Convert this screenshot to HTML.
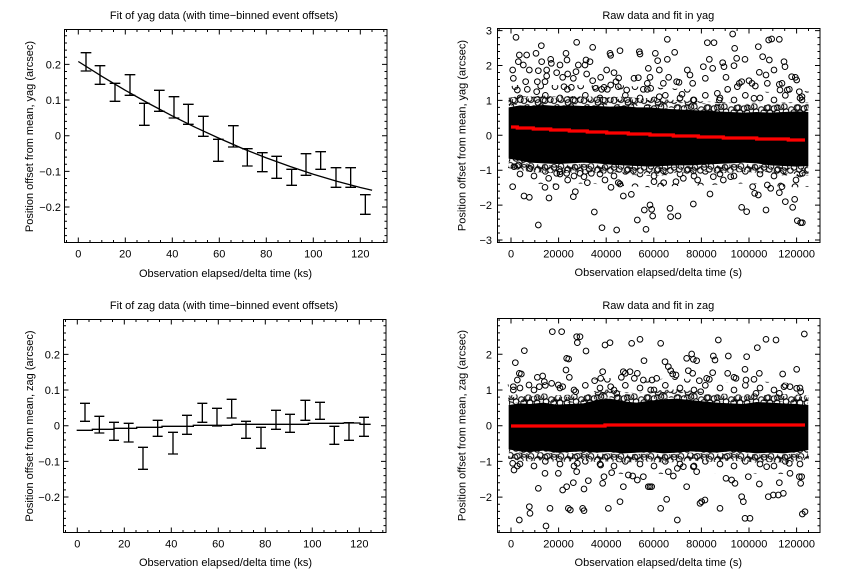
<!DOCTYPE html>
<html><head><meta charset="utf-8"><style>
html,body{margin:0;padding:0;background:#fff}
svg{display:block}
text{font-family:"Liberation Sans",Arial,sans-serif;font-size:11px;fill:#000}
</style></head><body>
<svg width="864" height="576" viewBox="0 0 864 576" xmlns="http://www.w3.org/2000/svg">
<defs>
<pattern id="pA" patternUnits="userSpaceOnUse" width="90" height="60">
<g fill="none" stroke="#000" stroke-width="3"><circle cx="12" cy="12" r="8.5"/><circle cx="33" cy="9" r="8.5"/><circle cx="54" cy="18" r="8.5"/><circle cx="75" cy="12" r="8.5"/><circle cx="21" cy="33" r="8.5"/><circle cx="42" cy="36" r="8.5"/><circle cx="63" cy="30" r="8.5"/><circle cx="78" cy="45" r="8.5"/><circle cx="11" cy="48" r="8.5"/><circle cx="30" cy="49" r="8.5"/><circle cx="51" cy="48" r="8.5"/></g>
</pattern>
<pattern id="pA2" patternUnits="userSpaceOnUse" width="90" height="60" patternTransform="translate(40,27)">
<g fill="none" stroke="#000" stroke-width="3"><circle cx="12" cy="12" r="8.5"/><circle cx="33" cy="9" r="8.5"/><circle cx="54" cy="18" r="8.5"/><circle cx="75" cy="12" r="8.5"/><circle cx="21" cy="33" r="8.5"/><circle cx="42" cy="36" r="8.5"/><circle cx="63" cy="30" r="8.5"/><circle cx="78" cy="45" r="8.5"/><circle cx="11" cy="48" r="8.5"/><circle cx="30" cy="49" r="8.5"/><circle cx="51" cy="48" r="8.5"/></g>
</pattern>
<pattern id="pB" patternUnits="userSpaceOnUse" width="120" height="72">
<g fill="none" stroke="#000" stroke-width="3"><circle cx="15" cy="14" r="8.5"/><circle cx="52" cy="22" r="8.5"/><circle cx="92" cy="12" r="8.5"/><circle cx="30" cy="48" r="8.5"/><circle cx="72" cy="54" r="8.5"/><circle cx="106" cy="40" r="8.5"/></g>
</pattern>
</defs>
<rect width="864" height="576" fill="#fff"/>

<!-- ================= TOP LEFT ================= -->
<g>
<text x="224" y="19" text-anchor="middle">Fit of yag data (with time−binned event offsets)</text>
<rect x="64.5" y="29.5" width="322.5" height="213" fill="none" stroke="#000" stroke-width="1"/>
<path fill="none" stroke="#000" stroke-width="1" d="
M78.3 242.5v-5M125.3 242.5v-5M172.3 242.5v-5M219.3 242.5v-5M266.3 242.5v-5M313.3 242.5v-5M360.3 242.5v-5
M78.3 29.5v5M125.3 29.5v5M172.3 29.5v5M219.3 29.5v5M266.3 29.5v5M313.3 29.5v5M360.3 29.5v5
M66.5 242.5v-2.5M90 242.5v-2.5M101.8 242.5v-2.5M113.5 242.5v-2.5M137 242.5v-2.5M148.8 242.5v-2.5M160.5 242.5v-2.5M184 242.5v-2.5M195.8 242.5v-2.5M207.5 242.5v-2.5M231 242.5v-2.5M242.8 242.5v-2.5M254.5 242.5v-2.5M278 242.5v-2.5M289.8 242.5v-2.5M301.5 242.5v-2.5M325 242.5v-2.5M336.8 242.5v-2.5M348.5 242.5v-2.5M372 242.5v-2.5M383.8 242.5v-2.5
M66.5 29.5v2.5M90 29.5v2.5M101.8 29.5v2.5M113.5 29.5v2.5M137 29.5v2.5M148.8 29.5v2.5M160.5 29.5v2.5M184 29.5v2.5M195.8 29.5v2.5M207.5 29.5v2.5M231 29.5v2.5M242.8 29.5v2.5M254.5 29.5v2.5M278 29.5v2.5M289.8 29.5v2.5M301.5 29.5v2.5M325 29.5v2.5M336.8 29.5v2.5M348.5 29.5v2.5M372 29.5v2.5M383.8 29.5v2.5
M64.5 64.4h5M64.5 100h5M64.5 135.7h5M64.5 171.4h5M64.5 207h5
M387 64.4h-5M387 100h-5M387 135.7h-5M387 171.4h-5M387 207h-5
M64.5 35.8h2.5M64.5 43h2.5M64.5 50.1h2.5M64.5 57.2h2.5M64.5 71.5h2.5M64.5 78.6h2.5M64.5 85.8h2.5M64.5 92.9h2.5M64.5 107.2h2.5M64.5 114.3h2.5M64.5 121.4h2.5M64.5 128.6h2.5M64.5 142.8h2.5M64.5 150h2.5M64.5 157.1h2.5M64.5 164.2h2.5M64.5 178.5h2.5M64.5 185.6h2.5M64.5 192.8h2.5M64.5 199.9h2.5M64.5 214.2h2.5M64.5 221.3h2.5M64.5 228.4h2.5M64.5 235.6h2.5
M387 35.8h-2.5M387 43h-2.5M387 50.1h-2.5M387 57.2h-2.5M387 71.5h-2.5M387 78.6h-2.5M387 85.8h-2.5M387 92.9h-2.5M387 107.2h-2.5M387 114.3h-2.5M387 121.4h-2.5M387 128.6h-2.5M387 142.8h-2.5M387 150h-2.5M387 157.1h-2.5M387 164.2h-2.5M387 178.5h-2.5M387 185.6h-2.5M387 192.8h-2.5M387 199.9h-2.5M387 214.2h-2.5M387 221.3h-2.5M387 228.4h-2.5M387 235.6h-2.5"/>
<g text-anchor="end">
<text x="61" y="68.4">0.2</text>
<text x="61" y="104">0.1</text>
<text x="61" y="139.7">0</text>
<text x="61" y="175.4">−0.1</text>
<text x="61" y="211">−0.2</text>
</g>
<g text-anchor="middle">
<text x="78.3" y="257.5">0</text>
<text x="125.3" y="257.5">20</text>
<text x="172.3" y="257.5">40</text>
<text x="219.3" y="257.5">60</text>
<text x="266.3" y="257.5">80</text>
<text x="313.3" y="257.5">100</text>
<text x="360.3" y="257.5">120</text>
<text x="225.5" y="277">Observation elapsed/delta time (ks)</text>
<text transform="translate(33,136.5) rotate(-90)">Position offset from mean, yag (arcsec)</text>
</g>
<path fill="none" stroke="#000" stroke-width="1.3" d="M78.3 61.5L101.8 76.3L125.3 90.3L148.8 103.5L172.3 115.9L195.8 127.6L219.3 138.4L242.8 148.6L266.3 157.9L289.8 166.4L313.3 174.2L336.8 181.2L360.3 187.5L372.1 190.3"/>
<g transform="scale(0.33333)" fill="none" stroke="#000" stroke-width="4">
<path d="M242 158H274M258 158V213M242 213H274
M284 197H316M300 197V253M284 253H316
M329 250H361M345 250V304M329 304H361
M374 224H406M390 224V286M374 286H406
M417 310H449M433 310V376M417 376H449
M462 271H494M478 271V334M462 334H494
M506 290H538M522 290V354M506 354H538
M549 313H581M565 313V373M549 373H581
M594 349H626M610 349V409M594 409H626
M639 418H671M655 418V484M639 484H671
M684 377H716M700 377V441M684 441H716
M726 446H758M742 446V498M726 498H758
M771 458H803M787 458V515M771 515H803
M814 469H846M830 469V535M814 535H846
M859 508H891M875 508V556M859 556H891
M902 461H934M918 461V526M902 526H934
M946 455H978M962 455V508M946 508H978
M992 503H1024M1008 503V562M992 562H1024
M1036 503H1068M1052 503V562M1036 562H1068
M1080 584H1112M1096 584V643M1080 643H1112"/>
</g>
</g>

<!-- ================= BOTTOM LEFT ================= -->
<g>
<text x="224" y="309" text-anchor="middle">Fit of zag data (with time−binned event offsets)</text>
<g transform="translate(-1,290)">
<rect x="64.5" y="29.5" width="322.5" height="213" fill="none" stroke="#000" stroke-width="1"/>
<path fill="none" stroke="#000" stroke-width="1" d="
M78.3 242.5v-5M125.3 242.5v-5M172.3 242.5v-5M219.3 242.5v-5M266.3 242.5v-5M313.3 242.5v-5M360.3 242.5v-5
M78.3 29.5v5M125.3 29.5v5M172.3 29.5v5M219.3 29.5v5M266.3 29.5v5M313.3 29.5v5M360.3 29.5v5
M66.5 242.5v-2.5M90 242.5v-2.5M101.8 242.5v-2.5M113.5 242.5v-2.5M137 242.5v-2.5M148.8 242.5v-2.5M160.5 242.5v-2.5M184 242.5v-2.5M195.8 242.5v-2.5M207.5 242.5v-2.5M231 242.5v-2.5M242.8 242.5v-2.5M254.5 242.5v-2.5M278 242.5v-2.5M289.8 242.5v-2.5M301.5 242.5v-2.5M325 242.5v-2.5M336.8 242.5v-2.5M348.5 242.5v-2.5M372 242.5v-2.5M383.8 242.5v-2.5
M66.5 29.5v2.5M90 29.5v2.5M101.8 29.5v2.5M113.5 29.5v2.5M137 29.5v2.5M148.8 29.5v2.5M160.5 29.5v2.5M184 29.5v2.5M195.8 29.5v2.5M207.5 29.5v2.5M231 29.5v2.5M242.8 29.5v2.5M254.5 29.5v2.5M278 29.5v2.5M289.8 29.5v2.5M301.5 29.5v2.5M325 29.5v2.5M336.8 29.5v2.5M348.5 29.5v2.5M372 29.5v2.5M383.8 29.5v2.5
M64.5 64.4h5M64.5 100h5M64.5 135.7h5M64.5 171.4h5M64.5 207h5
M387 64.4h-5M387 100h-5M387 135.7h-5M387 171.4h-5M387 207h-5
M64.5 35.8h2.5M64.5 43h2.5M64.5 50.1h2.5M64.5 57.2h2.5M64.5 71.5h2.5M64.5 78.6h2.5M64.5 85.8h2.5M64.5 92.9h2.5M64.5 107.2h2.5M64.5 114.3h2.5M64.5 121.4h2.5M64.5 128.6h2.5M64.5 142.8h2.5M64.5 150h2.5M64.5 157.1h2.5M64.5 164.2h2.5M64.5 178.5h2.5M64.5 185.6h2.5M64.5 192.8h2.5M64.5 199.9h2.5M64.5 214.2h2.5M64.5 221.3h2.5M64.5 228.4h2.5M64.5 235.6h2.5
M387 35.8h-2.5M387 43h-2.5M387 50.1h-2.5M387 57.2h-2.5M387 71.5h-2.5M387 78.6h-2.5M387 85.8h-2.5M387 92.9h-2.5M387 107.2h-2.5M387 114.3h-2.5M387 121.4h-2.5M387 128.6h-2.5M387 142.8h-2.5M387 150h-2.5M387 157.1h-2.5M387 164.2h-2.5M387 178.5h-2.5M387 185.6h-2.5M387 192.8h-2.5M387 199.9h-2.5M387 214.2h-2.5M387 221.3h-2.5M387 228.4h-2.5M387 235.6h-2.5"/>
<g text-anchor="end">
<text x="61" y="68.4">0.2</text>
<text x="61" y="104">0.1</text>
<text x="61" y="139.7">0</text>
<text x="61" y="175.4">−0.1</text>
<text x="61" y="211">−0.2</text>
</g>
<g text-anchor="middle">
<text x="78.3" y="257.5">0</text>
<text x="125.3" y="257.5">20</text>
<text x="172.3" y="257.5">40</text>
<text x="219.3" y="257.5">60</text>
<text x="266.3" y="257.5">80</text>
<text x="313.3" y="257.5">100</text>
<text x="360.3" y="257.5">120</text>
<text x="226.5" y="276">Observation elapsed/delta time (ks)</text>
<text transform="translate(34,136) rotate(-90)">Position offset from mean, zag (arcsec)</text>
</g>
</g>
<g transform="translate(60,371) scale(0.33333)" fill="none" stroke="#000" stroke-width="4">
<path d="M50 178H97V175H162V172H230V169H306V166H400V163H516V160H745V157H850V156H900V160H932"/>
<path d="M60 97H90M75 97V151M60 151H90
M103 136H133M118 136V186M103 186H133
M147 154H177M162 154V208M147 208H177
M191 157H221M206 157V213M191 213H221
M234 229H264M249 229V295M234 295H264
M278 148H308M293 148V196M278 196H308
M324 184H354M339 184V249M324 249H354
M366 133H396M381 133V190M366 190H396
M412 97H442M427 97V154M412 154H442
M456 112H486M471 112V165M456 165H486
M500 85H530M515 85V141M500 141H530
M543 151H573M558 151V202M543 202H573
M588 169H618M603 169V232M588 232H618
M633 118H663M648 118V175M633 175H663
M675 130H705M690 130V184M675 184H705
M721 88H751M736 88V148M721 148H751
M765 94H795M780 94V145M765 145H795
M808 166H838M823 166V220M808 220H838
M852 155H882M867 155V208M852 208H882
M897 139H927M912 139V196M897 196H927"/>
</g>
</g>

<!-- ================= TOP RIGHT ================= -->
<g>
<text x="658.3" y="19" text-anchor="middle">Raw data and fit in yag</text>
<g transform="translate(430,0) scale(0.33333)">
<polygon fill="#000" points="236,322 270,316 300,318 340,315 380,318 420,316 460,318 500,318 540,320 580,318 620,322 660,322 700,326 740,328 780,330 820,332 860,334 900,336 940,338 980,336 1020,338 1060,336 1100,334 1135,336 1135,498 1100,500 1060,498 1020,496 980,490 940,488 900,490 860,492 820,494 780,496 740,496 700,498 660,500 620,498 580,496 540,494 500,490 460,488 420,490 380,492 340,490 300,488 270,482 236,476"/>
<g fill="none" stroke-linejoin="round">
<polyline stroke="url(#pA)" stroke-width="24" transform="translate(0,-10)" points="236,322 270,316 300,318 340,315 380,318 420,316 460,318 500,318 540,320 580,318 620,322 660,322 700,326 740,328 780,330 820,332 860,334 900,336 940,338 980,336 1020,338 1060,336 1100,334 1135,336"/>
<polyline stroke="url(#pA2)" stroke-width="24" transform="translate(0,-16)" points="236,322 270,316 300,318 340,315 380,318 420,316 460,318 500,318 540,320 580,318 620,322 660,322 700,326 740,328 780,330 820,332 860,334 900,336 940,338 980,336 1020,338 1060,336 1100,334 1135,336"/>
<polyline stroke="url(#pB)" stroke-width="40" transform="translate(0,-42)" points="236,322 270,316 300,318 340,315 380,318 420,316 460,318 500,318 540,320 580,318 620,322 660,322 700,326 740,328 780,330 820,332 860,334 900,336 940,338 980,336 1020,338 1060,336 1100,334 1135,336"/>
<polyline stroke="url(#pA)" stroke-width="24" transform="translate(0,10)" points="236,476 270,482 300,488 340,490 380,492 420,490 460,488 500,490 540,494 580,496 620,498 660,500 700,498 740,496 780,496 820,494 860,492 900,490 940,488 980,490 1020,496 1060,498 1100,500 1135,498"/>
<polyline stroke="url(#pA2)" stroke-width="24" transform="translate(0,16)" points="236,476 270,482 300,488 340,490 380,492 420,490 460,488 500,490 540,494 580,496 620,498 660,500 700,498 740,496 780,496 820,494 860,492 900,490 940,488 980,490 1020,496 1060,498 1100,500 1135,498"/>
<polyline stroke="url(#pB)" stroke-width="40" transform="translate(0,42)" points="236,476 270,482 300,488 340,490 380,492 420,490 460,488 500,490 540,494 580,496 620,498 660,500 700,498 740,496 780,496 820,494 860,492 900,490 940,488 980,490 1020,496 1060,498 1100,500 1135,498"/>
</g>
<g fill="none" stroke="#000" stroke-width="3">
<circle cx="258" cy="112" r="8.5"/><circle cx="248" cy="210" r="8.5"/><circle cx="250" cy="235" r="8.5"/><circle cx="265" cy="185" r="8.5"/><circle cx="262" cy="270" r="8.5"/><circle cx="280" cy="195" r="8.5"/><circle cx="268" cy="165" r="8.5"/><circle cx="290" cy="165" r="8.5"/><circle cx="287" cy="245" r="8.5"/><circle cx="298" cy="210" r="8.5"/><circle cx="318" cy="160" r="8.5"/><circle cx="325" cy="212" r="8.5"/><circle cx="322" cy="245" r="8.5"/><circle cx="320" cy="275" r="8.5"/><circle cx="335" cy="185" r="8.5"/><circle cx="334" cy="137" r="8.5"/><circle cx="345" cy="245" r="8.5"/><circle cx="350" cy="210" r="8.5"/><circle cx="362" cy="178" r="8.5"/><circle cx="364" cy="190" r="8.5"/><circle cx="350" cy="228" r="8.5"/><circle cx="380" cy="218" r="8.5"/><circle cx="390" cy="195" r="8.5"/><circle cx="402" cy="260" r="8.5"/><circle cx="398" cy="232" r="8.5"/><circle cx="408" cy="160" r="8.5"/><circle cx="411" cy="180" r="8.5"/><circle cx="413" cy="222" r="8.5"/><circle cx="424" cy="262" r="8.5"/><circle cx="430" cy="235" r="8.5"/><circle cx="440" cy="127" r="8.5"/><circle cx="445" cy="195" r="8.5"/><circle cx="438" cy="215" r="8.5"/><circle cx="465" cy="195" r="8.5"/><circle cx="470" cy="222" r="8.5"/><circle cx="468" cy="180" r="8.5"/><circle cx="480" cy="185" r="8.5"/><circle cx="488" cy="142" r="8.5"/><circle cx="488" cy="242" r="8.5"/><circle cx="497" cy="265" r="8.5"/><circle cx="512" cy="232" r="8.5"/><circle cx="515" cy="268" r="8.5"/><circle cx="522" cy="262" r="8.5"/><circle cx="530" cy="210" r="8.5"/><circle cx="540" cy="160" r="8.5"/><circle cx="542" cy="166" r="8.5"/><circle cx="542" cy="255" r="8.5"/><circle cx="552" cy="218" r="8.5"/><circle cx="558" cy="245" r="8.5"/><circle cx="566" cy="234" r="8.5"/><circle cx="570" cy="152" r="8.5"/><circle cx="565" cy="260" r="8.5"/><circle cx="590" cy="270" r="8.5"/><circle cx="612" cy="235" r="8.5"/><circle cx="625" cy="233" r="8.5"/><circle cx="628" cy="155" r="8.5"/><circle cx="630" cy="162" r="8.5"/><circle cx="640" cy="268" r="8.5"/><circle cx="652" cy="250" r="8.5"/><circle cx="660" cy="232" r="8.5"/><circle cx="655" cy="205" r="8.5"/><circle cx="662" cy="265" r="8.5"/><circle cx="676" cy="160" r="8.5"/><circle cx="683" cy="182" r="8.5"/><circle cx="688" cy="210" r="8.5"/><circle cx="688" cy="290" r="8.5"/><circle cx="700" cy="250" r="8.5"/><circle cx="712" cy="118" r="8.5"/><circle cx="712" cy="178" r="8.5"/><circle cx="716" cy="232" r="8.5"/><circle cx="734" cy="157" r="8.5"/><circle cx="740" cy="245" r="8.5"/><circle cx="747" cy="247" r="8.5"/><circle cx="756" cy="283" r="8.5"/><circle cx="772" cy="210" r="8.5"/><circle cx="780" cy="225" r="8.5"/><circle cx="788" cy="250" r="8.5"/><circle cx="790" cy="300" r="8.5"/><circle cx="820" cy="200" r="8.5"/><circle cx="826" cy="235" r="8.5"/><circle cx="832" cy="128" r="8.5"/><circle cx="838" cy="178" r="8.5"/><circle cx="852" cy="128" r="8.5"/><circle cx="848" cy="205" r="8.5"/><circle cx="862" cy="280" r="8.5"/><circle cx="868" cy="300" r="8.5"/><circle cx="878" cy="188" r="8.5"/><circle cx="882" cy="200" r="8.5"/><circle cx="888" cy="232" r="8.5"/><circle cx="893" cy="268" r="8.5"/><circle cx="908" cy="102" r="8.5"/><circle cx="912" cy="197" r="8.5"/><circle cx="914" cy="145" r="8.5"/><circle cx="920" cy="175" r="8.5"/><circle cx="922" cy="260" r="8.5"/><circle cx="928" cy="250" r="8.5"/><circle cx="935" cy="245" r="8.5"/><circle cx="945" cy="178" r="8.5"/><circle cx="957" cy="242" r="8.5"/><circle cx="966" cy="250" r="8.5"/><circle cx="972" cy="295" r="8.5"/><circle cx="976" cy="258" r="8.5"/><circle cx="985" cy="140" r="8.5"/><circle cx="988" cy="217" r="8.5"/><circle cx="998" cy="170" r="8.5"/><circle cx="1008" cy="225" r="8.5"/><circle cx="1012" cy="250" r="8.5"/><circle cx="1016" cy="120" r="8.5"/><circle cx="1018" cy="180" r="8.5"/><circle cx="1025" cy="117" r="8.5"/><circle cx="1032" cy="210" r="8.5"/><circle cx="1048" cy="118" r="8.5"/><circle cx="1048" cy="253" r="8.5"/><circle cx="1050" cy="270" r="8.5"/><circle cx="1056" cy="250" r="8.5"/><circle cx="1062" cy="185" r="8.5"/><circle cx="1065" cy="200" r="8.5"/><circle cx="1072" cy="270" r="8.5"/><circle cx="1078" cy="268" r="8.5"/><circle cx="1085" cy="230" r="8.5"/><circle cx="1096" cy="232" r="8.5"/><circle cx="1100" cy="240" r="8.5"/><circle cx="1108" cy="275" r="8.5"/><circle cx="1116" cy="290" r="8.5"/><circle cx="1116" cy="300" r="8.5"/>
<circle cx="248" cy="560" r="8.5"/><circle cx="252" cy="500" r="8.5"/><circle cx="265" cy="495" r="8.5"/><circle cx="282" cy="588" r="8.5"/><circle cx="298" cy="592" r="8.5"/><circle cx="300" cy="505" r="8.5"/><circle cx="325" cy="675" r="8.5"/><circle cx="345" cy="562" r="8.5"/><circle cx="357" cy="594" r="8.5"/><circle cx="356" cy="535" r="8.5"/><circle cx="378" cy="560" r="8.5"/><circle cx="380" cy="520" r="8.5"/><circle cx="390" cy="515" r="8.5"/><circle cx="410" cy="520" r="8.5"/><circle cx="413" cy="540" r="8.5"/><circle cx="430" cy="590" r="8.5"/><circle cx="436" cy="575" r="8.5"/><circle cx="450" cy="520" r="8.5"/><circle cx="462" cy="530" r="8.5"/><circle cx="472" cy="548" r="8.5"/><circle cx="484" cy="520" r="8.5"/><circle cx="493" cy="636" r="8.5"/><circle cx="516" cy="683" r="8.5"/><circle cx="525" cy="540" r="8.5"/><circle cx="543" cy="562" r="8.5"/><circle cx="560" cy="690" r="8.5"/><circle cx="565" cy="548" r="8.5"/><circle cx="570" cy="552" r="8.5"/><circle cx="580" cy="588" r="8.5"/><circle cx="604" cy="583" r="8.5"/><circle cx="622" cy="660" r="8.5"/><circle cx="643" cy="630" r="8.5"/><circle cx="648" cy="688" r="8.5"/><circle cx="660" cy="615" r="8.5"/><circle cx="665" cy="628" r="8.5"/><circle cx="668" cy="648" r="8.5"/><circle cx="672" cy="545" r="8.5"/><circle cx="701" cy="548" r="8.5"/><circle cx="720" cy="625" r="8.5"/><circle cx="722" cy="650" r="8.5"/><circle cx="744" cy="648" r="8.5"/><circle cx="738" cy="545" r="8.5"/><circle cx="760" cy="535" r="8.5"/><circle cx="790" cy="612" r="8.5"/><circle cx="803" cy="540" r="8.5"/><circle cx="840" cy="582" r="8.5"/><circle cx="850" cy="530" r="8.5"/><circle cx="880" cy="540" r="8.5"/><circle cx="902" cy="530" r="8.5"/><circle cx="935" cy="622" r="8.5"/><circle cx="950" cy="635" r="8.5"/><circle cx="968" cy="560" r="8.5"/><circle cx="974" cy="580" r="8.5"/><circle cx="985" cy="585" r="8.5"/><circle cx="1008" cy="630" r="8.5"/><circle cx="1012" cy="555" r="8.5"/><circle cx="1022" cy="565" r="8.5"/><circle cx="1048" cy="578" r="8.5"/><circle cx="1056" cy="560" r="8.5"/><circle cx="1066" cy="605" r="8.5"/><circle cx="1088" cy="622" r="8.5"/><circle cx="1094" cy="598" r="8.5"/><circle cx="1102" cy="662" r="8.5"/><circle cx="1112" cy="668" r="8.5"/><circle cx="1117" cy="668" r="8.5"/><circle cx="1098" cy="540" r="8.5"/><circle cx="1117" cy="520" r="8.5"/>
</g>
</g>
<path fill="none" stroke="#ff0000" stroke-width="3.3" d="M511 127H517.3V128H533.3V129H550.7V130H569.3V131H587.3V132H606.7V133H628.3V134H650V135H673.3V136H698.3V137H723.3V138H756.7V139H788.3V140H805"/>
<rect x="497.5" y="28.5" width="322.5" height="214" fill="none" stroke="#000" stroke-width="1"/>
<path fill="none" stroke="#000" stroke-width="1" d="
M511 242.5v-5M558.6 242.5v-5M606.2 242.5v-5M653.8 242.5v-5M701.4 242.5v-5M749 242.5v-5M796.6 242.5v-5
M511 28.5v5M558.6 28.5v5M606.2 28.5v5M653.8 28.5v5M701.4 28.5v5M749 28.5v5M796.6 28.5v5
M499.1 242.5v-2.5M522.9 242.5v-2.5M534.8 242.5v-2.5M546.7 242.5v-2.5M570.5 242.5v-2.5M582.4 242.5v-2.5M594.3 242.5v-2.5M618.1 242.5v-2.5M630 242.5v-2.5M641.9 242.5v-2.5M665.7 242.5v-2.5M677.6 242.5v-2.5M689.5 242.5v-2.5M713.3 242.5v-2.5M725.2 242.5v-2.5M737.1 242.5v-2.5M760.9 242.5v-2.5M772.8 242.5v-2.5M784.7 242.5v-2.5M808.5 242.5v-2.5
M499.1 28.5v2.5M522.9 28.5v2.5M534.8 28.5v2.5M546.7 28.5v2.5M570.5 28.5v2.5M582.4 28.5v2.5M594.3 28.5v2.5M618.1 28.5v2.5M630 28.5v2.5M641.9 28.5v2.5M665.7 28.5v2.5M677.6 28.5v2.5M689.5 28.5v2.5M713.3 28.5v2.5M725.2 28.5v2.5M737.1 28.5v2.5M760.9 28.5v2.5M772.8 28.5v2.5M784.7 28.5v2.5M808.5 28.5v2.5
M497.5 30.6h5M497.5 65.5h5M497.5 100.4h5M497.5 135.3h5M497.5 170.2h5M497.5 205.1h5M497.5 240h5
M820 30.6h-5M820 65.5h-5M820 100.4h-5M820 135.3h-5M820 170.2h-5M820 205.1h-5M820 240h-5
M497.5 37.6h2.5M497.5 44.6h2.5M497.5 51.5h2.5M497.5 58.5h2.5M497.5 72.5h2.5M497.5 79.5h2.5M497.5 86.4h2.5M497.5 93.4h2.5M497.5 107.4h2.5M497.5 114.4h2.5M497.5 121.3h2.5M497.5 128.3h2.5M497.5 142.3h2.5M497.5 149.3h2.5M497.5 156.2h2.5M497.5 163.2h2.5M497.5 177.2h2.5M497.5 184.2h2.5M497.5 191.1h2.5M497.5 198.1h2.5M497.5 212.1h2.5M497.5 219.1h2.5M497.5 226h2.5M497.5 233h2.5
M820 37.6h-2.5M820 44.6h-2.5M820 51.5h-2.5M820 58.5h-2.5M820 72.5h-2.5M820 79.5h-2.5M820 86.4h-2.5M820 93.4h-2.5M820 107.4h-2.5M820 114.4h-2.5M820 121.3h-2.5M820 128.3h-2.5M820 142.3h-2.5M820 149.3h-2.5M820 156.2h-2.5M820 163.2h-2.5M820 177.2h-2.5M820 184.2h-2.5M820 191.1h-2.5M820 198.1h-2.5M820 212.1h-2.5M820 219.1h-2.5M820 226h-2.5M820 233h-2.5"/>
<g text-anchor="end">
<text x="492" y="34.6">3</text>
<text x="492" y="69.5">2</text>
<text x="492" y="104.4">1</text>
<text x="492" y="139.3">0</text>
<text x="492" y="174.2">−1</text>
<text x="492" y="209.1">−2</text>
<text x="492" y="244">−3</text>
</g>
<g text-anchor="middle">
<text x="511" y="257.5">0</text>
<text x="558.6" y="257.5">20000</text>
<text x="606.2" y="257.5">40000</text>
<text x="653.8" y="257.5">60000</text>
<text x="701.4" y="257.5">80000</text>
<text x="749" y="257.5">100000</text>
<text x="796.6" y="257.5">120000</text>
<text x="658.3" y="276">Observation elapsed/delta time (s)</text>
<text transform="translate(465.5,135.5) rotate(-90)">Position offset from mean, yag (arcsec)</text>
</g>
</g>

<!-- ================= BOTTOM RIGHT ================= -->
<g>
<text x="658.3" y="309" text-anchor="middle">Raw data and fit in zag</text>
<g transform="translate(430,290) scale(0.33333)">
<polygon fill="#000" points="236,345 270,340 300,342 340,338 380,344 420,342 460,340 500,330 540,326 580,334 620,338 660,332 700,328 740,326 780,330 820,334 860,338 900,340 940,342 980,336 1020,338 1060,340 1100,342 1135,345 1135,480 1100,486 1060,490 1020,488 980,490 940,486 900,484 860,488 820,486 780,484 740,488 700,490 660,486 620,488 580,490 540,486 500,488 460,484 420,486 380,488 340,482 300,486 270,484 236,478"/>
<g fill="none" stroke-linejoin="round">
<polyline stroke="url(#pA)" stroke-width="24" transform="translate(0,-10)" points="236,345 270,340 300,342 340,338 380,344 420,342 460,340 500,330 540,326 580,334 620,338 660,332 700,328 740,326 780,330 820,334 860,338 900,340 940,342 980,336 1020,338 1060,340 1100,342 1135,345"/>
<polyline stroke="url(#pA2)" stroke-width="24" transform="translate(0,-16)" points="236,345 270,340 300,342 340,338 380,344 420,342 460,340 500,330 540,326 580,334 620,338 660,332 700,328 740,326 780,330 820,334 860,338 900,340 940,342 980,336 1020,338 1060,340 1100,342 1135,345"/>
<polyline stroke="url(#pB)" stroke-width="40" transform="translate(0,-42)" points="236,345 270,340 300,342 340,338 380,344 420,342 460,340 500,330 540,326 580,334 620,338 660,332 700,328 740,326 780,330 820,334 860,338 900,340 940,342 980,336 1020,338 1060,340 1100,342 1135,345"/>
<polyline stroke="url(#pA)" stroke-width="24" transform="translate(0,10)" points="236,478 270,484 300,486 340,482 380,488 420,486 460,484 500,488 540,486 580,490 620,488 660,486 700,490 740,488 780,484 820,486 860,488 900,484 940,486 980,490 1020,488 1060,490 1100,486 1135,480"/>
<polyline stroke="url(#pA2)" stroke-width="24" transform="translate(0,16)" points="236,478 270,484 300,486 340,482 380,488 420,486 460,484 500,488 540,486 580,490 620,488 660,486 700,490 740,488 780,484 820,486 860,488 900,484 940,486 980,490 1020,488 1060,490 1100,486 1135,480"/>
<polyline stroke="url(#pB)" stroke-width="40" transform="translate(0,42)" points="236,478 270,484 300,486 340,482 380,488 420,486 460,484 500,488 540,486 580,490 620,488 660,486 700,490 740,488 780,484 820,486 860,488 900,484 940,486 980,490 1020,488 1060,490 1100,486 1135,480"/>
</g>
<g fill="none" stroke="#000" stroke-width="3">
<circle cx="256" cy="218" r="8.5"/><circle cx="283" cy="182" r="8.5"/><circle cx="250" cy="290" r="8.5"/><circle cx="262" cy="270" r="8.5"/><circle cx="268" cy="250" r="8.5"/><circle cx="274" cy="252" r="8.5"/><circle cx="250" cy="300" r="8.5"/><circle cx="297" cy="285" r="8.5"/><circle cx="322" cy="262" r="8.5"/><circle cx="328" cy="290" r="8.5"/><circle cx="338" cy="258" r="8.5"/><circle cx="343" cy="275" r="8.5"/><circle cx="365" cy="280" r="8.5"/><circle cx="367" cy="125" r="8.5"/><circle cx="385" cy="285" r="8.5"/><circle cx="395" cy="125" r="8.5"/><circle cx="398" cy="290" r="8.5"/><circle cx="408" cy="240" r="8.5"/><circle cx="410" cy="205" r="8.5"/><circle cx="416" cy="207" r="8.5"/><circle cx="418" cy="262" r="8.5"/><circle cx="437" cy="305" r="8.5"/><circle cx="440" cy="140" r="8.5"/><circle cx="450" cy="140" r="8.5"/><circle cx="442" cy="158" r="8.5"/><circle cx="468" cy="183" r="8.5"/><circle cx="494" cy="272" r="8.5"/><circle cx="512" cy="265" r="8.5"/><circle cx="518" cy="245" r="8.5"/><circle cx="525" cy="165" r="8.5"/><circle cx="540" cy="158" r="8.5"/><circle cx="542" cy="290" r="8.5"/><circle cx="560" cy="310" r="8.5"/><circle cx="574" cy="262" r="8.5"/><circle cx="580" cy="245" r="8.5"/><circle cx="586" cy="250" r="8.5"/><circle cx="600" cy="245" r="8.5"/><circle cx="605" cy="160" r="8.5"/><circle cx="613" cy="265" r="8.5"/><circle cx="622" cy="250" r="8.5"/><circle cx="630" cy="148" r="8.5"/><circle cx="640" cy="270" r="8.5"/><circle cx="642" cy="212" r="8.5"/><circle cx="662" cy="300" r="8.5"/><circle cx="666" cy="270" r="8.5"/><circle cx="680" cy="265" r="8.5"/><circle cx="692" cy="160" r="8.5"/><circle cx="705" cy="215" r="8.5"/><circle cx="715" cy="230" r="8.5"/><circle cx="722" cy="242" r="8.5"/><circle cx="728" cy="252" r="8.5"/><circle cx="738" cy="255" r="8.5"/><circle cx="770" cy="205" r="8.5"/><circle cx="775" cy="242" r="8.5"/><circle cx="785" cy="192" r="8.5"/><circle cx="790" cy="208" r="8.5"/><circle cx="800" cy="212" r="8.5"/><circle cx="788" cy="250" r="8.5"/><circle cx="808" cy="272" r="8.5"/><circle cx="812" cy="305" r="8.5"/><circle cx="830" cy="265" r="8.5"/><circle cx="838" cy="268" r="8.5"/><circle cx="848" cy="248" r="8.5"/><circle cx="850" cy="198" r="8.5"/><circle cx="855" cy="210" r="8.5"/><circle cx="865" cy="150" r="8.5"/><circle cx="895" cy="198" r="8.5"/><circle cx="893" cy="250" r="8.5"/><circle cx="912" cy="262" r="8.5"/><circle cx="918" cy="265" r="8.5"/><circle cx="945" cy="238" r="8.5"/><circle cx="948" cy="270" r="8.5"/><circle cx="950" cy="200" r="8.5"/><circle cx="972" cy="268" r="8.5"/><circle cx="978" cy="310" r="8.5"/><circle cx="982" cy="173" r="8.5"/><circle cx="988" cy="250" r="8.5"/><circle cx="1008" cy="148" r="8.5"/><circle cx="1038" cy="150" r="8.5"/><circle cx="1048" cy="310" r="8.5"/><circle cx="1058" cy="252" r="8.5"/><circle cx="1062" cy="290" r="8.5"/><circle cx="1080" cy="290" r="8.5"/><circle cx="1100" cy="295" r="8.5"/><circle cx="1112" cy="305" r="8.5"/><circle cx="1123" cy="132" r="8.5"/><circle cx="1100" cy="238" r="8.5"/>
<circle cx="248" cy="520" r="8.5"/><circle cx="252" cy="540" r="8.5"/><circle cx="262" cy="528" r="8.5"/><circle cx="268" cy="690" r="8.5"/><circle cx="298" cy="650" r="8.5"/><circle cx="300" cy="670" r="8.5"/><circle cx="325" cy="595" r="8.5"/><circle cx="345" cy="550" r="8.5"/><circle cx="348" cy="708" r="8.5"/><circle cx="360" cy="655" r="8.5"/><circle cx="385" cy="550" r="8.5"/><circle cx="398" cy="600" r="8.5"/><circle cx="410" cy="590" r="8.5"/><circle cx="415" cy="655" r="8.5"/><circle cx="421" cy="660" r="8.5"/><circle cx="430" cy="578" r="8.5"/><circle cx="442" cy="520" r="8.5"/><circle cx="440" cy="545" r="8.5"/><circle cx="458" cy="655" r="8.5"/><circle cx="462" cy="662" r="8.5"/><circle cx="462" cy="597" r="8.5"/><circle cx="475" cy="572" r="8.5"/><circle cx="512" cy="525" r="8.5"/><circle cx="518" cy="580" r="8.5"/><circle cx="522" cy="560" r="8.5"/><circle cx="535" cy="655" r="8.5"/><circle cx="545" cy="548" r="8.5"/><circle cx="570" cy="635" r="8.5"/><circle cx="580" cy="590" r="8.5"/><circle cx="595" cy="555" r="8.5"/><circle cx="608" cy="558" r="8.5"/><circle cx="622" cy="570" r="8.5"/><circle cx="640" cy="560" r="8.5"/><circle cx="655" cy="590" r="8.5"/><circle cx="660" cy="590" r="8.5"/><circle cx="665" cy="590" r="8.5"/><circle cx="692" cy="655" r="8.5"/><circle cx="710" cy="628" r="8.5"/><circle cx="715" cy="545" r="8.5"/><circle cx="730" cy="558" r="8.5"/><circle cx="742" cy="535" r="8.5"/><circle cx="742" cy="690" r="8.5"/><circle cx="760" cy="530" r="8.5"/><circle cx="770" cy="590" r="8.5"/><circle cx="790" cy="530" r="8.5"/><circle cx="800" cy="545" r="8.5"/><circle cx="810" cy="640" r="8.5"/><circle cx="815" cy="635" r="8.5"/><circle cx="825" cy="630" r="8.5"/><circle cx="870" cy="655" r="8.5"/><circle cx="888" cy="565" r="8.5"/><circle cx="905" cy="570" r="8.5"/><circle cx="915" cy="580" r="8.5"/><circle cx="935" cy="620" r="8.5"/><circle cx="940" cy="635" r="8.5"/><circle cx="945" cy="685" r="8.5"/><circle cx="960" cy="685" r="8.5"/><circle cx="955" cy="560" r="8.5"/><circle cx="988" cy="582" r="8.5"/><circle cx="1010" cy="530" r="8.5"/><circle cx="1015" cy="620" r="8.5"/><circle cx="1030" cy="615" r="8.5"/><circle cx="1045" cy="615" r="8.5"/><circle cx="1060" cy="610" r="8.5"/><circle cx="1048" cy="578" r="8.5"/><circle cx="1078" cy="520" r="8.5"/><circle cx="1080" cy="550" r="8.5"/><circle cx="1108" cy="560" r="8.5"/><circle cx="1112" cy="580" r="8.5"/><circle cx="1115" cy="560" r="8.5"/><circle cx="1117" cy="672" r="8.5"/><circle cx="1125" cy="665" r="8.5"/>
</g>
</g>
<path fill="none" stroke="#ff0000" stroke-width="3.3" d="M511 426H605V425H805"/>
<g transform="translate(0,290)">
<rect x="497.5" y="28.5" width="322.5" height="214" fill="none" stroke="#000" stroke-width="1"/>
<path fill="none" stroke="#000" stroke-width="1" d="
M511 242.5v-5M558.6 242.5v-5M606.2 242.5v-5M653.8 242.5v-5M701.4 242.5v-5M749 242.5v-5M796.6 242.5v-5
M511 28.5v5M558.6 28.5v5M606.2 28.5v5M653.8 28.5v5M701.4 28.5v5M749 28.5v5M796.6 28.5v5
M499.1 242.5v-2.5M522.9 242.5v-2.5M534.8 242.5v-2.5M546.7 242.5v-2.5M570.5 242.5v-2.5M582.4 242.5v-2.5M594.3 242.5v-2.5M618.1 242.5v-2.5M630 242.5v-2.5M641.9 242.5v-2.5M665.7 242.5v-2.5M677.6 242.5v-2.5M689.5 242.5v-2.5M713.3 242.5v-2.5M725.2 242.5v-2.5M737.1 242.5v-2.5M760.9 242.5v-2.5M772.8 242.5v-2.5M784.7 242.5v-2.5M808.5 242.5v-2.5
M499.1 28.5v2.5M522.9 28.5v2.5M534.8 28.5v2.5M546.7 28.5v2.5M570.5 28.5v2.5M582.4 28.5v2.5M594.3 28.5v2.5M618.1 28.5v2.5M630 28.5v2.5M641.9 28.5v2.5M665.7 28.5v2.5M677.6 28.5v2.5M689.5 28.5v2.5M713.3 28.5v2.5M725.2 28.5v2.5M737.1 28.5v2.5M760.9 28.5v2.5M772.8 28.5v2.5M784.7 28.5v2.5M808.5 28.5v2.5
M497.5 64.3h5M497.5 100h5M497.5 135.7h5M497.5 171.4h5M497.5 207.1h5
M820 64.3h-5M820 100h-5M820 135.7h-5M820 171.4h-5M820 207.1h-5
M497.5 35.7h2.5M497.5 42.9h2.5M497.5 50h2.5M497.5 57.2h2.5M497.5 71.4h2.5M497.5 78.6h2.5M497.5 85.7h2.5M497.5 92.9h2.5M497.5 107.1h2.5M497.5 114.3h2.5M497.5 121.4h2.5M497.5 128.6h2.5M497.5 142.8h2.5M497.5 150h2.5M497.5 157.1h2.5M497.5 164.3h2.5M497.5 178.5h2.5M497.5 185.7h2.5M497.5 192.8h2.5M497.5 200h2.5M497.5 214.2h2.5M497.5 221.4h2.5M497.5 228.5h2.5M497.5 235.7h2.5
M820 35.7h-2.5M820 42.9h-2.5M820 50h-2.5M820 57.2h-2.5M820 71.4h-2.5M820 78.6h-2.5M820 85.7h-2.5M820 92.9h-2.5M820 107.1h-2.5M820 114.3h-2.5M820 121.4h-2.5M820 128.6h-2.5M820 142.8h-2.5M820 150h-2.5M820 157.1h-2.5M820 164.3h-2.5M820 178.5h-2.5M820 185.7h-2.5M820 192.8h-2.5M820 200h-2.5M820 214.2h-2.5M820 221.4h-2.5M820 228.5h-2.5M820 235.7h-2.5"/>
<g text-anchor="end">
<text x="492" y="68.3">2</text>
<text x="492" y="104">1</text>
<text x="492" y="139.7">0</text>
<text x="492" y="175.4">−1</text>
<text x="492" y="211.1">−2</text>
</g>
<g text-anchor="middle">
<text x="511" y="257.5">0</text>
<text x="558.6" y="257.5">20000</text>
<text x="606.2" y="257.5">40000</text>
<text x="653.8" y="257.5">60000</text>
<text x="701.4" y="257.5">80000</text>
<text x="749" y="257.5">100000</text>
<text x="796.6" y="257.5">120000</text>
<text x="658.3" y="276">Observation elapsed/delta time (s)</text>
<text transform="translate(465.5,135.5) rotate(-90)">Position offset from mean, zag (arcsec)</text>
</g>
</g>
</g>
</svg>
</body></html>
